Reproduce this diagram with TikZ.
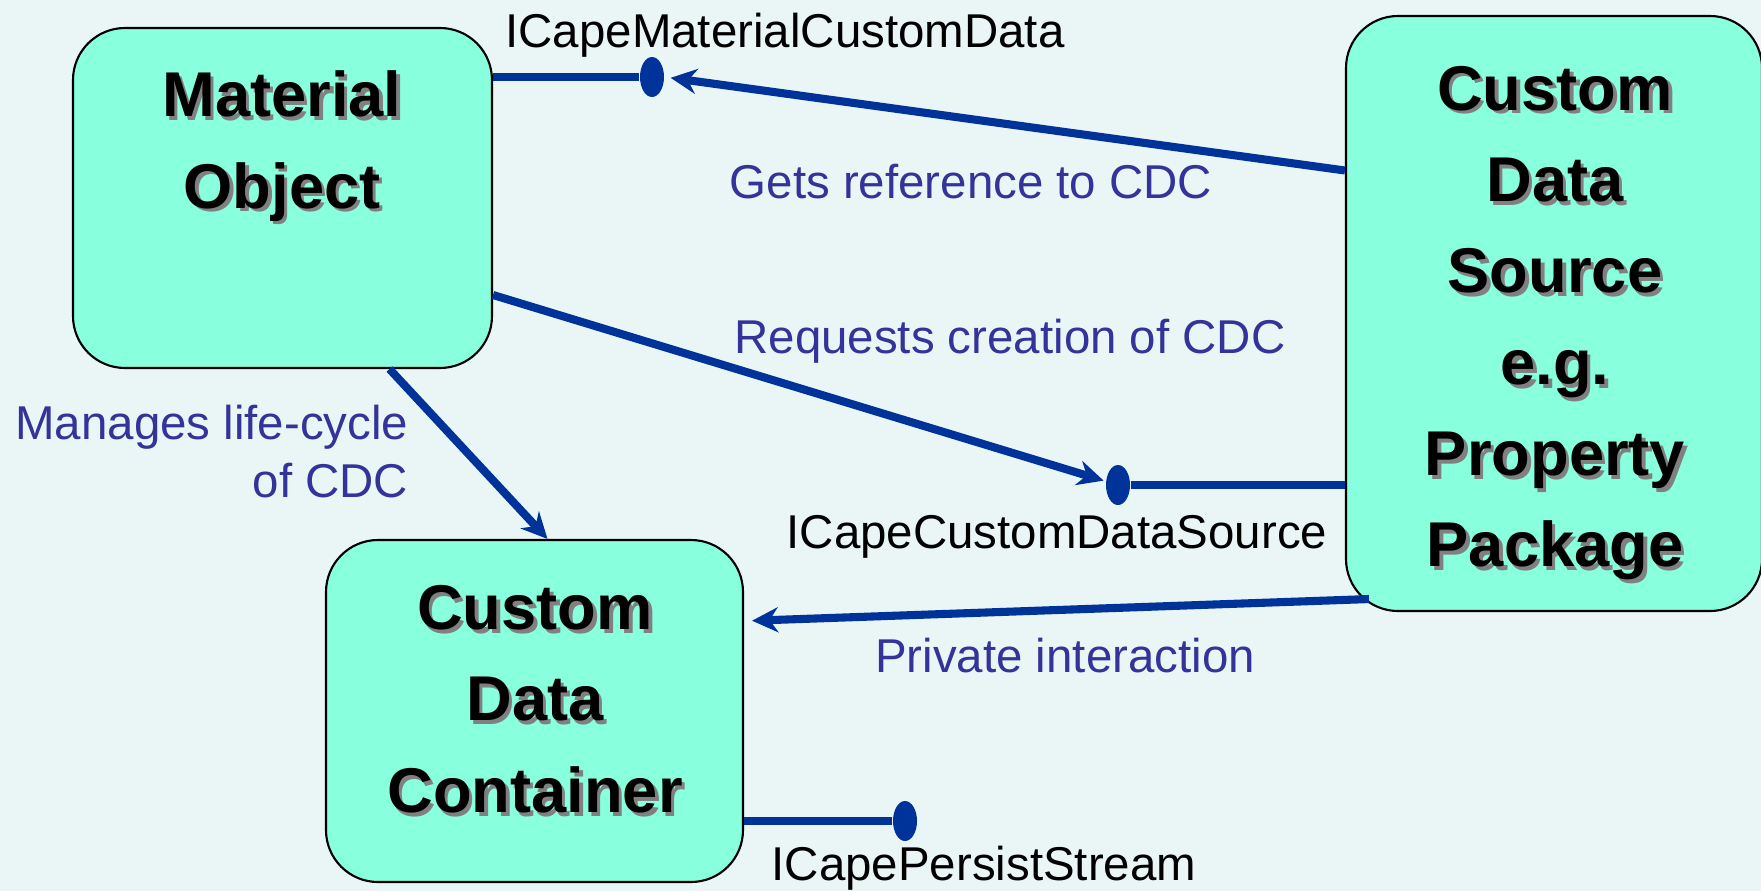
\documentclass[tikz,border=0pt]{standalone}
\usepackage{fontspec}
\setmainfont{Liberation Sans}
\usepackage{tikz}
\usetikzlibrary{arrows.meta,calc,positioning,shapes.geometric}
\usepackage{xcolor}

\definecolor{bgcol}{RGB}{234,246,246}
\definecolor{boxfill}{RGB}{136,255,221}
\definecolor{linkblue}{RGB}{0,51,153}
\definecolor{lblblue}{RGB}{51,51,153}

\newcommand{\shd}[1]{\makebox[0pt][l]{\hspace{1pt}\raisebox{-1.1pt}{\textcolor{black!50}{#1}}}#1}

\tikzset{
  obj/.style={draw=black,line width=0.6pt,fill=boxfill,rounded corners=0.52cm,inner sep=0pt},
  objtext/.style={align=center,font=\fontsize{18}{26}\selectfont\bfseries},
  iface/.style={font=\fontsize{13.5}{16.5}\selectfont,inner sep=0pt,anchor=base},
  note/.style={iface,text=lblblue},
  link/.style={linkblue,line width=2.3pt},
  lolli/.style={ellipse,fill=linkblue,minimum width=0.24cm,minimum height=0.40cm,inner sep=0pt},
}

\begin{document}
\begin{tikzpicture}[>={Stealth[length=0.26cm,width=0.25cm]}]
    \fill[bgcol] (0,0) rectangle (17.61,8.91);
    \useasboundingbox (0,0) rectangle (17.61,8.91);

    \node[obj,minimum width=4.19cm,minimum height=3.40cm] (matobj) at (2.825,6.93) {};
    \node[obj,minimum width=4.16cm,minimum height=5.95cm] (cdsrc) at (15.54,5.775) {};
    \node[obj,minimum width=4.17cm,minimum height=3.42cm] (cdcont) at (5.345,1.80) {};

    \node[objtext] (matobjtxt) at (2.82,7.43) {\shd{Material}\\\shd{Object}};
    \node[objtext] (cdsrctxt) at (15.55,5.66) {\shd{Custom}\\\shd{Data}\\\shd{Source}\\\shd{e.g.}\\\shd{Property}\\\shd{Package}};
    \node[objtext] (cdconttxt) at (5.35,1.90) {\shd{Custom}\\\shd{Data}\\\shd{Container}};

    \node[lolli] (mcd) at (6.52,8.14) {};
    \node[lolli] (cdsl) at (11.18,4.06) {};
    \node[lolli] (pst) at (9.05,0.70) {};

    \draw[link] (mcd -| matobj.east) -- (mcd);
    \draw[link,->,shorten >=0.06cm] ([yshift=1.43cm]cdsrc.west) -- (mcd.east);
    \draw[link,->,shorten >=0.02cm] ([yshift=-0.97cm]matobj.east) -- (cdsl);
    \draw[link] (cdsl) -- (cdsl -| cdsrc.west);
    \draw[link,->] ([xshift=1.07cm]matobj.south) -- ([xshift=0.13cm]cdcont.north);
    \draw[link,->,shorten >=0.08cm] ([shift={(0.24,0.13)}]cdsrc.south west) -- ([yshift=0.90cm]cdcont.east);
    \draw[link] (pst -| cdcont.east) -- (pst);

    \node[iface] (mcdlbl) at (7.85,8.44) {ICapeMaterialCustomData};
    \node[note] (getlbl) at (9.71,6.93) {Gets reference to CDC};
    \node[note] (reqlbl) at (10.10,5.38) {Requests creation of CDC};
    \node[iface] (cdslbl) at (10.57,3.43) {ICapeCustomDataSource};
    \node[note] (privlbl) at (10.65,2.19) {Private interaction};
    \node[iface] (pstlbl) at (9.84,0.11) {ICapePersistStream};
    \node[note,align=right,anchor=east] (mgrlbl) at (4.09,4.395) {Manages life-cycle\\of CDC};
\end{tikzpicture}
\end{document}
